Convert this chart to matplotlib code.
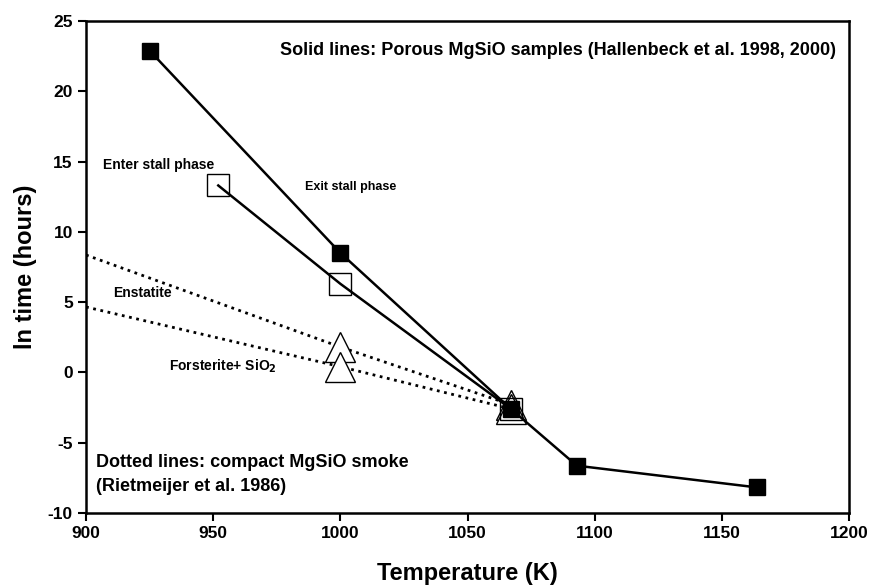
import numpy as np
import matplotlib
matplotlib.use("Agg")
import matplotlib.pyplot as plt

plt.rcParams['font.family'] = ['Liberation Sans', 'DejaVu Sans']
plt.rcParams['font.weight'] = 'bold'
plt.rcParams['axes.unicode_minus'] = False

# porous samples, exit stall phase (filled squares)
exit_T = [925, 1000, 1067, 1093, 1164]
exit_lnt = [22.9, 8.5, -2.6, -6.65, -8.2]

# porous samples, enter stall phase (open squares)
enter_T = [952, 1000, 1067]
enter_lnt = [13.3, 6.3, -2.6]

# compact smoke, dotted lines (triangles at measured points)
enst_T = [900, 1000, 1067]
enst_lnt = [8.35, 1.8, -2.3]
forst_T = [900, 1000, 1067]
forst_lnt = [4.65, 0.4, -2.6]

xticks = [900, 950, 1000, 1050, 1100, 1150, 1200]
yticks = [-10, -5, 0, 5, 10, 15, 20, 25]

fig = plt.figure(figsize=(8.69, 5.88), dpi=100)
ax = fig.add_axes([0.099, 0.128, 0.878, 0.836])

# dotted lines
ax.plot(enst_T, enst_lnt, color='black', lw=2, ls=':')
ax.plot(forst_T, forst_lnt, color='black', lw=2, ls=':')
ax.plot(enst_T[1:], enst_lnt[1:], ls='none', marker='^', ms=21,
        mfc='white', mec='black', mew=1.0)
ax.plot(forst_T[1:], forst_lnt[1:], ls='none', marker='^', ms=21,
        mfc='white', mec='black', mew=1.0)

# solid lines
ax.plot(enter_T, enter_lnt, color='black', lw=1.8, marker='s', ms=16,
        mfc='none', mec='black', mew=1.0)
ax.plot(exit_T, exit_lnt, color='black', lw=1.8, marker='s', ms=11.5,
        mfc='black', mec='black')

ax.set_xlim(900, 1200)
ax.set_ylim(-10, 25)
ax.set_xticks(xticks)
ax.set_yticks(yticks)
ax.tick_params(direction='out', length=6, width=1.5, labelsize=12.5,
               top=False, right=False)
for lab in ax.get_xticklabels() + ax.get_yticklabels():
    lab.set_fontweight('bold')
for sp in ax.spines.values():
    sp.set_linewidth(1.8)

ax.set_xlabel('Temperature (K)', fontsize=17, fontweight='bold', labelpad=15)
ax.set_ylabel('ln time (hours)', fontsize=17, fontweight='bold', labelpad=8)

ax.text(1195, 22.9, 'Solid lines: Porous MgSiO samples (Hallenbeck et al. 1998, 2000)',
        ha='right', va='center', fontsize=13, fontweight='bold')
ax.text(904, -6.4, 'Dotted lines: compact MgSiO smoke', ha='left', va='center',
        fontsize=13, fontweight='bold')
ax.text(904, -8.1, '(Rietmeijer et al. 1986)', ha='left', va='center',
        fontsize=13, fontweight='bold')
ax.text(928.7, 14.75, 'Enter stall phase', ha='center', va='center', fontsize=10, fontweight='bold')
ax.text(1004, 13.2, 'Exit stall phase', ha='center', va='center', fontsize=9, fontweight='bold')
ax.text(922, 5.65, 'Enstatite', ha='center', va='center', fontsize=10, fontweight='bold')
ax.text(954, 0.4, 'Forsterite+ SiO$_2$', ha='center', va='center', fontsize=10, fontweight='bold')

fig.savefig('out.png', dpi=100)
